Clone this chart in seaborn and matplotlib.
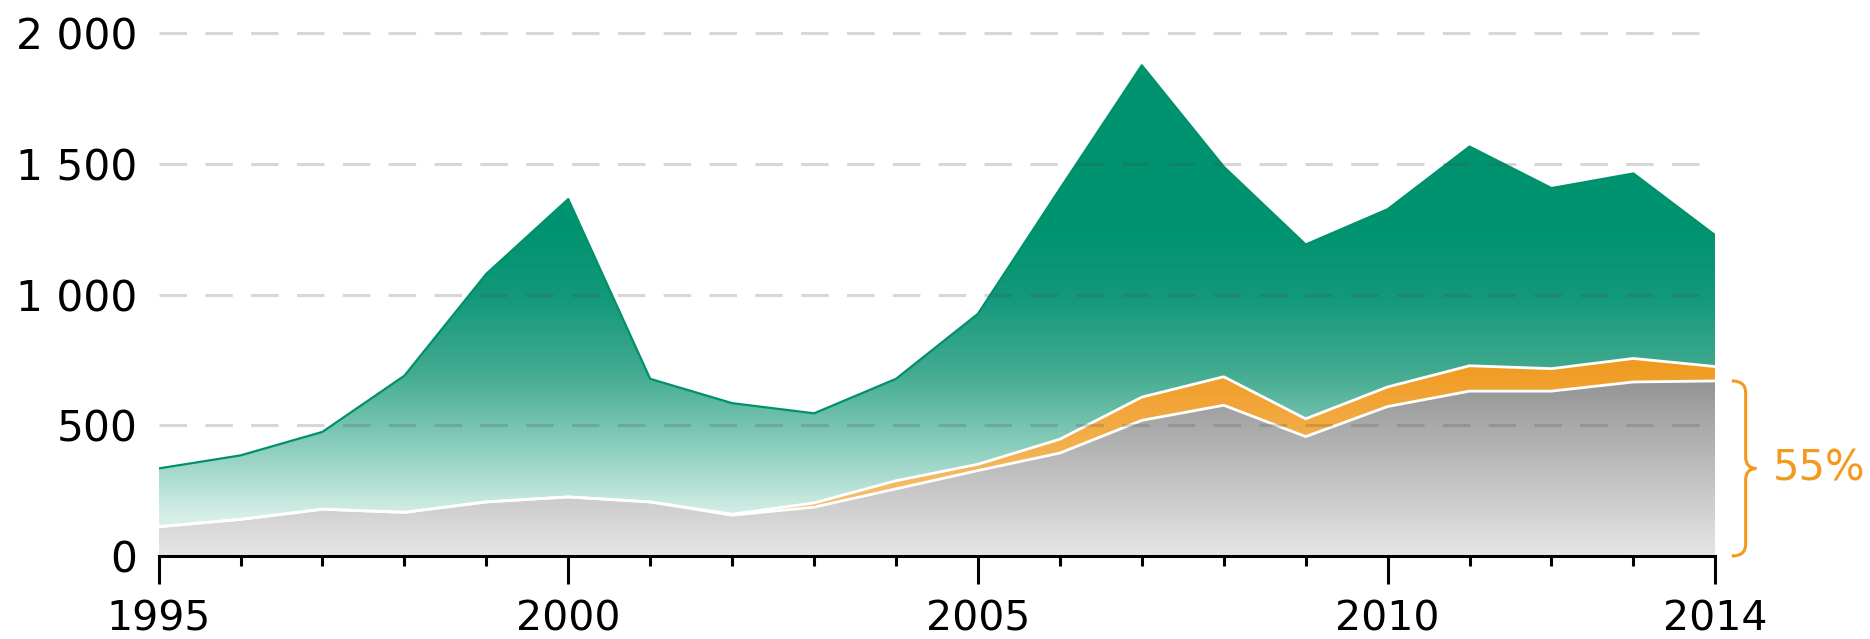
import numpy as np
import pandas as pd
import matplotlib.pyplot as plt
import seaborn as sns
from matplotlib.colors import LinearSegmentedColormap
from matplotlib.path import Path
from matplotlib.patches import PathPatch

sns.set_theme(style="white")
plt.rcParams['font.family'] = ['DejaVu Sans']

# values
years = list(range(1995, 2015))
grey_part = [112, 140, 179, 167, 207, 226, 207, 156, 187, 257, 327, 394, 519, 577, 457, 572, 631, 631, 666, 670]
orange_part = [0, 0, 0, 0, 0, 0, 0, 4, 16, 31, 24, 53, 89, 109, 68, 75, 97, 86, 90, 55]
green_part = [223, 245, 296, 523, 873, 1140, 471, 425, 343, 390, 576, 958, 1270, 804, 667, 680, 839, 691, 708, 502]
y_ticks = [0, 500, 1000, 1500, 2000]
y_labels = ["0", "500", "1 000", "1 500", "2 000"]
share_label = "55%"

df = pd.DataFrame({"year": years, "grey": grey_part, "orange": orange_part, "green": green_part})
df["grey_top"] = df["grey"]
df["orange_top"] = df["grey_top"] + df["orange"]
df["total"] = df["orange_top"] + df["green"]

YMAX = 2100
fig = plt.figure(figsize=(18.7, 6.39), dpi=100)
ax = fig.add_axes([0.0848, 0.1299, 0.8325, 0.8587])

green_cmap = LinearSegmentedColormap.from_list(
    "g", [(0.0, "#e2f4ef"), (150 / YMAX, "#d6efe8"), (400 / YMAX, "#8fd0bf"), (700 / YMAX, "#42ab90"),
          (1000 / YMAX, "#12987a"), (1250 / YMAX, "#00936f"), (1.0, "#00936f")])
grey_cmap = LinearSegmentedColormap.from_list(
    "k", [(0.0, "#e6e6e6"), (680 / YMAX, "#939393"), (1.0, "#8a8a8a")])
orange_cmap = LinearSegmentedColormap.from_list(
    "o", [(0.0, "#f8c880"), (250 / YMAX, "#f6bb66"), (750 / YMAX, "#ef9a1f"), (1.0, "#ef9a1f")])

grad = np.linspace(0, 1, 512).reshape(-1, 1)


def gradient_fill(lower, upper, cmap, z):
    poly = ax.fill_between(df["year"], lower, upper, facecolor="none", edgecolor="none", zorder=z)
    im = ax.imshow(grad, cmap=cmap, aspect="auto", origin="lower",
                   extent=[1995, 2014, 0, YMAX], zorder=z, interpolation="bilinear")
    im.set_clip_path(poly.get_paths()[0], transform=ax.transData)


gradient_fill(0, df["grey_top"], grey_cmap, 1)
gradient_fill(df["grey_top"], df["orange_top"], orange_cmap, 1)
gradient_fill(df["orange_top"], df["total"], green_cmap, 1)

sns.lineplot(data=df, x="year", y="total", color="#00906c", linewidth=1.6, ax=ax, zorder=3)
sns.lineplot(data=df, x="year", y="orange_top", color="white", linewidth=2.0, ax=ax, zorder=3)
sns.lineplot(data=df, x="year", y="grey_top", color="white", linewidth=2.0, ax=ax, zorder=3)

# dashed grid on top of the areas
for v in y_ticks[1:]:
    ax.axhline(v, color=(0.3, 0.3, 0.3), alpha=0.22, linewidth=2.2, dashes=(9, 6), zorder=4)

ax.set_xlim(1995, 2014)
ax.set_ylim(0, YMAX)
ax.set_xlabel("")
ax.set_ylabel("")

ax.set_xticks([1995, 2000, 2005, 2010, 2014])
ax.set_xticks(years, minor=True)
ax.set_yticks(y_ticks)
ax.set_yticklabels(y_labels)
ax.tick_params(axis="x", which="major", direction="out", length=20, width=2.2, color="black",
               labelsize=29.5, pad=11, bottom=True)
ax.tick_params(axis="x", which="minor", direction="out", length=7, width=2.2, color="black", bottom=True)
ax.tick_params(axis="y", length=0, labelsize=30.5, pad=15)
for lab in ax.get_xticklabels() + ax.get_yticklabels():
    lab.set_color("black")

for s in ["top", "right", "left"]:
    ax.spines[s].set_visible(False)
ax.spines["bottom"].set_linewidth(2.2)
ax.spines["bottom"].set_color("black")
ax.spines["bottom"].set_zorder(5)

# curly brace for the share of the last year
orange = "#f39a1e"
top = df["orange_top"].iloc[-1] - df["orange"].iloc[-1]
mid = top / 2
r = 45
x0, x1, x2 = 2014.20, 2014.37, 2014.50
verts = [(x0, top), (x1, top), (x1, top - r), (x1, mid + r), (x1, mid), (x2, mid),
         (x1, mid), (x1, mid - r), (x1, r), (x1, 0), (x0, 0)]
codes = [Path.MOVETO, Path.CURVE3, Path.CURVE3, Path.LINETO, Path.CURVE3, Path.CURVE3,
         Path.CURVE3, Path.CURVE3, Path.LINETO, Path.CURVE3, Path.CURVE3]
ax.add_patch(PathPatch(Path(verts, codes), facecolor="none", edgecolor=orange, linewidth=2.2,
                       clip_on=False, zorder=5))
ax.text(2014.70, mid, share_label, color=orange, fontsize=30, va="center", ha="left", clip_on=False)

fig.savefig("out.png", dpi=100)
